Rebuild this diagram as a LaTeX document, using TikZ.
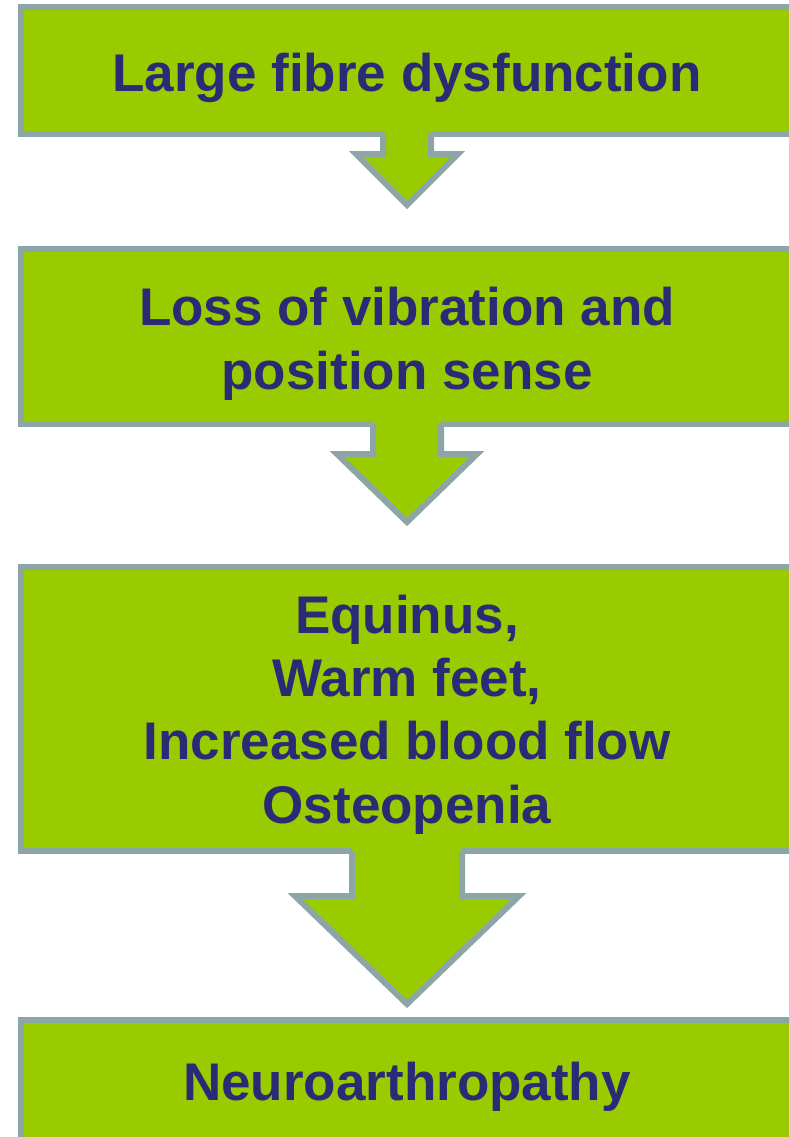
\documentclass[tikz,border=0pt]{standalone}
\usepackage{fontspec}
\setmainfont{Liberation Sans}
\usetikzlibrary{calc}
\definecolor{boxgreen}{HTML}{99CC00}
\definecolor{boxedge}{RGB}{140,166,168}
\definecolor{navytext}{RGB}{43,42,118}
\tikzset{
  box/.style={rectangle, draw=boxedge, fill=boxgreen, line width=6pt, outer sep=0pt, inner sep=0pt},
  boxlabel/.style={text=navytext, font=\bfseries\fontsize{53}{63.3}\selectfont, align=center, inner sep=0pt, anchor=base},
  arrowfill/.style={fill=boxgreen},
  arrowline/.style={draw=boxedge, line width=6pt, line join=miter},
}
% #1 node, #2 shaft half width, #3 wing offset, #4 head half width, #5 tip offset
\newcommand\flowarrow[5]{%
  \fill[arrowfill] ($(#1.south)+(-#2,-6)$) -- ($(#1.south)+(-#2,#3)$) -- ($(#1.south)+(-#4,#3)$)
    -- ($(#1.south)+(0,#5)$) -- ($(#1.south)+(#4,#3)$) -- ($(#1.south)+(#2,#3)$) -- ($(#1.south)+(#2,-6)$) -- cycle;
  \draw[arrowline] ($(#1.south)+(-#2,0)$) -- ($(#1.south)+(-#2,#3)$) -- ($(#1.south)+(-#4,#3)$)
    -- ($(#1.south)+(0,#5)$) -- ($(#1.south)+(#4,#3)$) -- ($(#1.south)+(#2,#3)$) -- ($(#1.south)+(#2,0)$);
}
\begin{document}
\begin{tikzpicture}[x=1pt,y=-1pt]
  \clip (0,0) rectangle (789,1137);
  \node[box, minimum width=772pt, minimum height=127pt] (b1) at (407,70.5) {};
  \node[box, minimum width=772pt, minimum height=175pt] (b2) at (407,336.5) {};
  \node[box, minimum width=772pt, minimum height=284pt] (b3) at (407,709) {};
  \node[box, minimum width=772pt, minimum height=140pt] (b4) at (407,1090) {};
  \flowarrow{b1}{24}{20}{51}{71}
  \flowarrow{b2}{34}{30}{70}{98}
  \flowarrow{b3}{55}{45}{112}{153}
  \node[boxlabel] (t1) at (407,92) {Large fibre dysfunction};
  \node[boxlabel] (t2) at (407,389) {Loss of vibration and\\position sense};
  \node[boxlabel] (t3) at (407,823) {Equinus,\\Warm feet,\\Increased blood flow\\Osteopenia};
  \node[boxlabel] (t4) at (407,1100) {Neuroarthropathy};
\end{tikzpicture}
\end{document}
